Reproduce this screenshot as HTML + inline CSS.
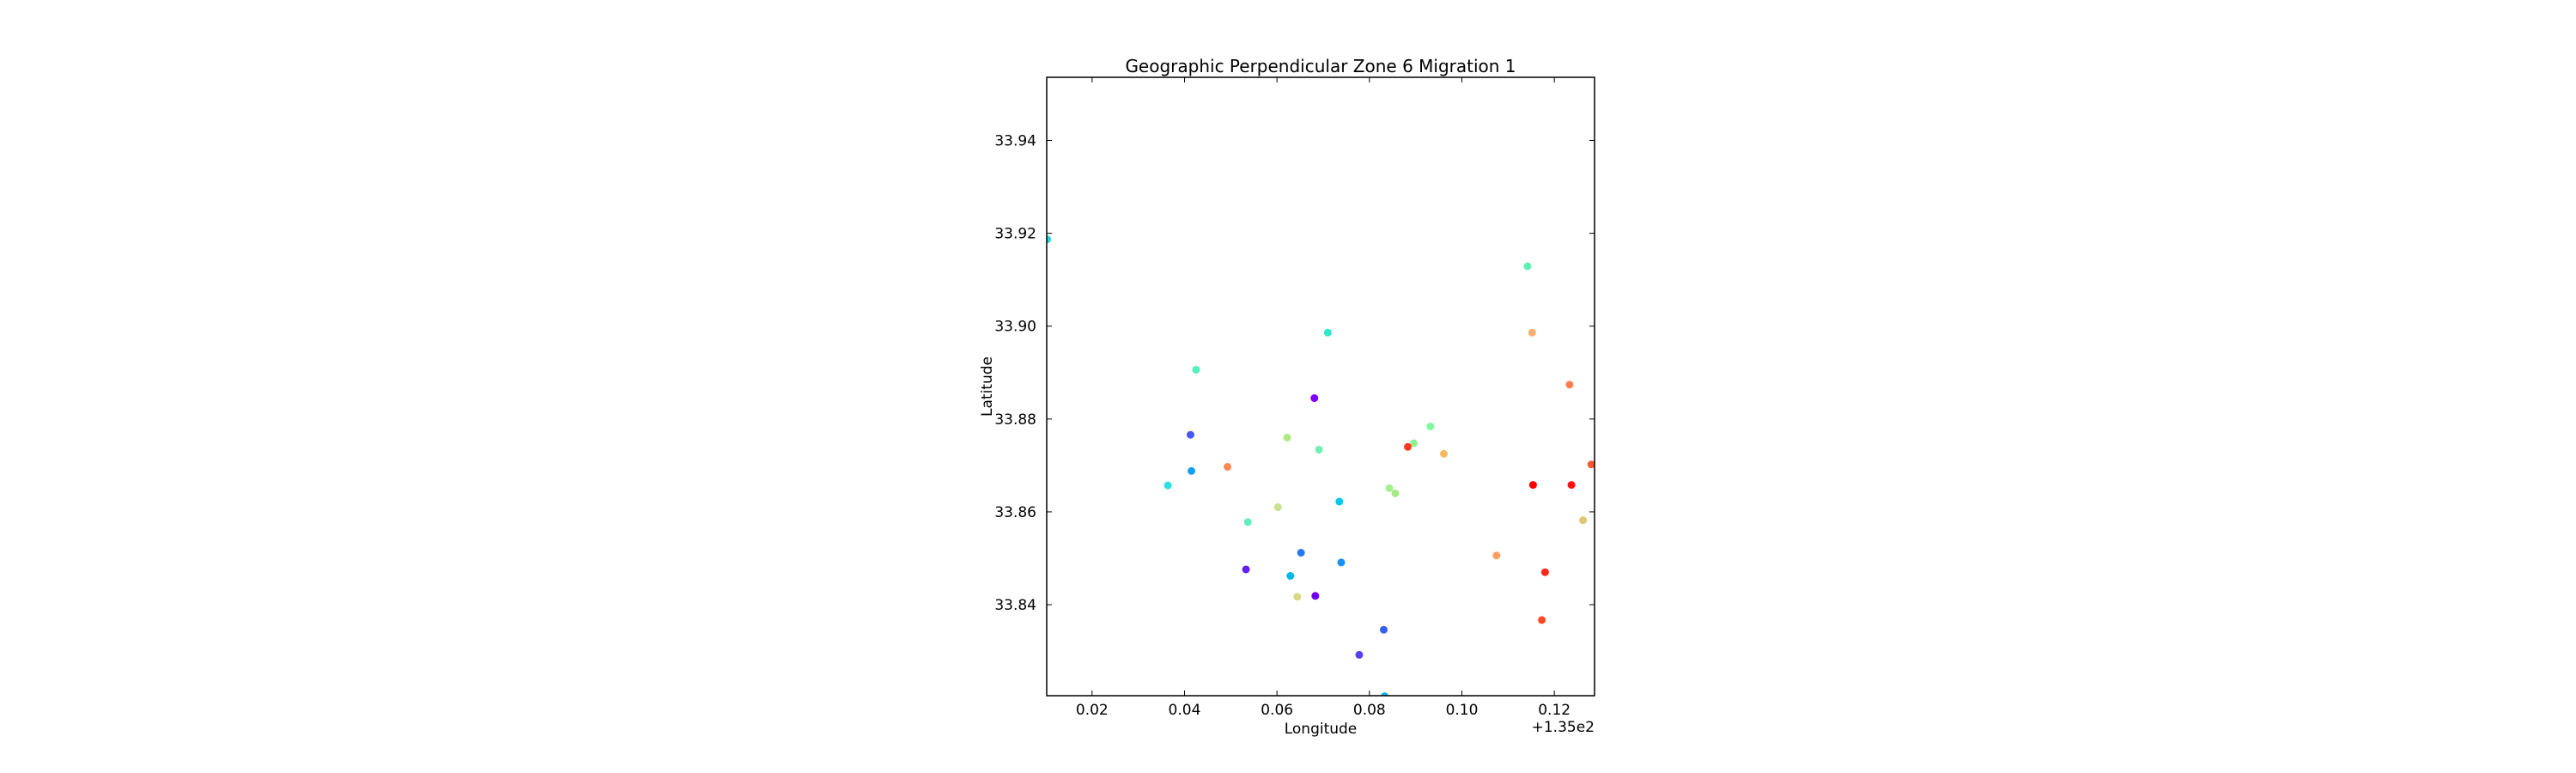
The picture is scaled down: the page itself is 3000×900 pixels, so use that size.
<!DOCTYPE html>
<html><head><meta charset="utf-8"><style>
html,body{margin:0;padding:0;background:#fff;}
svg{display:block;font-family:"DejaVu Sans","Liberation Sans",sans-serif;}
</style></head><body>
<svg id="chart" width="3000" height="900" viewBox="0 0 3000 900" xmlns="http://www.w3.org/2000/svg">
<rect width="3000" height="900" fill="#fff"/>
<g id="marks"></g>
<g id="axes"></g>
<text x="1538" y="84" font-size="20" text-anchor="middle">Geographic Perpendicular Zone 6 Migration 1</text>
<text x="1538" y="854" font-size="17" text-anchor="middle">Longitude</text>
<text x="1857" y="852" font-size="17" text-anchor="end">+1.35e2</text>
<text x="1155" y="450" font-size="17" text-anchor="middle" transform="rotate(-90 1155 450)">Latitude</text>
</svg>
<script>
const lons=[0.0103,0.1142,0.0710,0.1152,0.0425,0.1233,0.0681,0.0932,0.0413,0.0622,0.0896,0.0691,0.0883,0.0961,0.0493,0.1280,0.0415,0.0364,0.1154,0.1237,0.0843,0.0856,0.0735,0.0602,0.1262,0.0537,0.1075,0.0652,0.0739,0.1180,0.0533,0.0629,0.0644,0.0683,0.1173,0.0831,0.0778,0.0833];
const lats=[33.9187,33.9129,33.8986,33.8986,33.8906,33.8874,33.8845,33.8784,33.8766,33.8760,33.8748,33.8734,33.8740,33.8725,33.8697,33.8702,33.8688,33.8657,33.8658,33.8658,33.8651,33.8640,33.8622,33.8610,33.8582,33.8578,33.8506,33.8512,33.8491,33.8470,33.8476,33.8462,33.8417,33.8419,33.8367,33.8346,33.8292,33.8203];
const colors=["#20d8e0","#60f0b0","#30e8c8","#f8b070","#50f0c0","#ff7f50","#8000ff","#80f8a0","#4858f0","#b0e880","#90f090","#70f0b0","#ff3820","#f8b860","#ff8850","#ff5830","#10a0f0","#30e0e0","#ff0000","#ff1010","#a0f090","#a8e888","#00c8e8","#c8e090","#e0c870","#60f0c0","#ffa060","#2878f0","#1890f0","#ff2818","#6020f0","#00b8e8","#d8d880","#7000f0","#ff4828","#3860f0","#5840f0","#10b8e8"];
const xTicks=[0.02,0.04,0.06,0.08,0.10,0.12];
const xTickLabels=["0.02","0.04","0.06","0.08","0.10","0.12"];
const yTicks=[33.84,33.86,33.88,33.90,33.92,33.94];
const yTickLabels=["33.84","33.86","33.88","33.90","33.92","33.94"];
const L=1219,R=1857,T=90,B=810;
const xMin=0.01019,xMax=0.1287,yMin=33.8204,yMax=33.9536;
function sx(v){return L+(v-xMin)/(xMax-xMin)*(R-L);}
function sy(v){return B-(v-yMin)/(yMax-yMin)*(B-T);}
const NS="http://www.w3.org/2000/svg";
const marks=document.getElementById('marks');
const clip=document.createElementNS(NS,'clipPath');clip.setAttribute('id','cp');
const cr=document.createElementNS(NS,'rect');cr.setAttribute('x',L);cr.setAttribute('y',T);cr.setAttribute('width',R-L);cr.setAttribute('height',B-T);
clip.appendChild(cr);document.getElementById('chart').appendChild(clip);
marks.setAttribute('clip-path','url(#cp)');
for(let i=0;i<lons.length;i++){
 const c=document.createElementNS(NS,'circle');
 
 
 c.setAttribute('cx',sx(lons[i]));c.setAttribute('cy',sy(lats[i]));c.setAttribute('r',4.5);
 c.setAttribute('fill',colors[i]);
 marks.appendChild(c);
}
const axes=document.getElementById('axes');
const frame=document.createElementNS(NS,'rect');


frame.setAttribute('x',L);frame.setAttribute('y',T);frame.setAttribute('width',R-L);frame.setAttribute('height',B-T);
frame.setAttribute('fill','none');frame.setAttribute('stroke','#000');frame.setAttribute('stroke-width','1.5');
axes.appendChild(frame);
function line(x1,y1,x2,y2){const l=document.createElementNS(NS,'line');l.setAttribute('x1',x1);l.setAttribute('y1',y1);l.setAttribute('x2',x2);l.setAttribute('y2',y2);l.setAttribute('stroke','#000');l.setAttribute('stroke-width','1');return l;}
xTicks.forEach((v,i)=>{
 const x=sx(v);
 const t1=line(x,B,x,B-6);
 
 
 axes.appendChild(t1);
 const t2=line(x,T,x,T+6);
 
 
 axes.appendChild(t2);
 const tx=document.createElementNS(NS,'text');
 
 
 tx.setAttribute('x',x);tx.setAttribute('y',B+22);tx.setAttribute('font-size','17');tx.setAttribute('text-anchor','middle');
 tx.textContent=xTickLabels[i];axes.appendChild(tx);
});
yTicks.forEach((v,i)=>{
 const y=sy(v);
 const t1=line(L,y,L+6,y);
 
 
 axes.appendChild(t1);
 const t2=line(R,y,R-6,y);
 
 
 axes.appendChild(t2);
 const tx=document.createElementNS(NS,'text');
 
 
 tx.setAttribute('x',L-12);tx.setAttribute('y',y+6);tx.setAttribute('font-size','17');tx.setAttribute('text-anchor','end');
 tx.textContent=yTickLabels[i];axes.appendChild(tx);
});
</script>
</body></html>
